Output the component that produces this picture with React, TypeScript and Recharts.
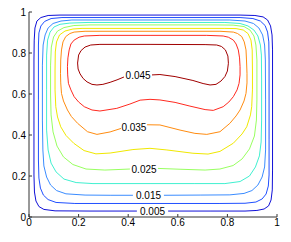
import React from 'react';
import { ComposedChart, Line, XAxis, YAxis, ReferenceDot } from 'recharts';

// contour levels, outermost first
const levels = [0.005, 0.01, 0.015, 0.02, 0.025, 0.03, 0.035, 0.04, 0.045];
const levelColors = ['#1010d8', '#2050ff', '#3a8cff', '#40f0d0', '#98ff60', '#f0e800', '#ff8c10', '#ff2a20', '#a00000'];

const c005 = [[.561,.029],[.730,.029],[.871,.029],[.919,.032],[.948,.039],[.966,.054],[.976,.083],[.981,.132],[.982,.229],[.982,.522],[.982,.815],[.980,.888],[.974,.932],[.962,.961],[.944,.976],[.911,.983],[.851,.985],[.488,.985],[.125,.985],[.077,.983],[.048,.973],[.032,.956],[.024,.922],[.021,.863],[.020,.766],[.020,.473],[.020,.205],[.022,.122],[.028,.078],[.040,.051],[.060,.037],[.105,.030],[.246,.029],[.435,.029]];
const c010 = [[.488,.066],[.770,.066],[.871,.067],[.915,.073],[.940,.088],[.956,.112],[.965,.151],[.968,.205],[.968,.376],[.968,.766],[.967,.854],[.962,.902],[.952,.934],[.933,.956],[.903,.968],[.851,.973],[.488,.973],[.133,.973],[.089,.968],[.063,.954],[.048,.932],[.040,.898],[.038,.839],[.038,.571],[.038,.278],[.040,.190],[.046,.141],[.058,.107],[.077,.085],[.109,.071],[.185,.066],[.488,.066]];
const c015 = [[.544,.106],[.690,.107],[.810,.108],[.867,.115],[.899,.129],[.923,.156],[.940,.195],[.950,.244],[.954,.327],[.954,.571],[.953,.766],[.950,.839],[.942,.888],[.927,.922],[.905,.944],[.871,.956],[.810,.961],[.488,.961],[.173,.961],[.129,.956],[.097,.944],[.077,.922],[.065,.888],[.057,.839],[.054,.741],[.054,.473],[.056,.327],[.060,.249],[.071,.195],[.087,.156],[.111,.129],[.149,.113],[.226,.107],[.327,.106],[.419,.106]];
const c020 = [[.488,.163],[.669,.163],[.790,.163],[.851,.173],[.889,.200],[.913,.244],[.929,.298],[.936,.366],[.938,.473],[.938,.668],[.937,.790],[.933,.839],[.923,.883],[.907,.912],[.883,.932],[.851,.944],[.790,.949],[.488,.949],[.238,.949],[.165,.946],[.125,.940],[.101,.927],[.085,.902],[.075,.863],[.071,.790],[.071,.620],[.071,.424],[.077,.327],[.089,.263],[.109,.220],[.141,.185],[.190,.168],[.258,.163],[.488,.163]];
const c025 = [[.520,.237],[.609,.233],[.710,.229],[.770,.234],[.823,.251],[.859,.283],[.889,.332],[.909,.395],[.917,.473],[.919,.571],[.919,.766],[.915,.839],[.907,.883],[.891,.912],[.867,.929],[.823,.936],[.750,.937],[.488,.937],[.246,.937],[.181,.934],[.141,.924],[.115,.907],[.099,.878],[.090,.829],[.087,.741],[.087,.595],[.089,.498],[.097,.415],[.113,.346],[.139,.293],[.177,.256],[.230,.234],[.306,.229],[.367,.232],[.407,.234]];
const c030 = [[.488,.335],[.556,.327],[.661,.311],[.722,.307],[.770,.320],[.824,.360],[.859,.405],[.878,.440],[.893,.498],[.898,.538],[.901,.620],[.901,.717],[.900,.815],[.895,.863],[.883,.895],[.864,.912],[.835,.919],[.790,.920],[.488,.920],[.214,.920],[.177,.917],[.145,.907],[.123,.888],[.111,.854],[.106,.805],[.105,.717],[.105,.620],[.108,.538],[.115,.488],[.128,.440],[.149,.398],[.181,.359],[.222,.324],[.270,.308],[.327,.312],[.419,.329],[.488,.335]];
const c035 = [[.476,.450],[.528,.449],[.609,.424],[.669,.408],[.717,.403],[.770,.416],[.810,.457],[.835,.493],[.851,.522],[.867,.566],[.875,.603],[.879,.654],[.879,.701],[.877,.766],[.875,.815],[.868,.854],[.858,.880],[.841,.895],[.824,.902],[.770,.906],[.488,.906],[.226,.906],[.182,.902],[.165,.895],[.148,.880],[.137,.854],[.131,.815],[.128,.766],[.127,.701],[.128,.654],[.131,.603],[.139,.566],[.155,.522],[.171,.490],[.196,.457],[.236,.416],[.274,.403],[.327,.415],[.371,.432]];
const c040 = [[.488,.574],[.528,.571],[.589,.559],[.649,.541],[.710,.524],[.743,.520],[.783,.538],[.806,.561],[.824,.587],[.839,.620],[.847,.652],[.851,.693],[.851,.733],[.849,.776],[.844,.815],[.835,.844],[.824,.863],[.804,.877],[.783,.883],[.717,.886],[.488,.886],[.286,.886],[.223,.883],[.202,.877],[.182,.863],[.169,.844],[.162,.815],[.157,.776],[.155,.733],[.156,.693],[.159,.652],[.169,.620],[.182,.587],[.200,.561],[.223,.538],[.254,.522],[.286,.517],[.354,.530],[.407,.551],[.448,.570],[.488,.574]];
const c045 = [[.496,.693],[.528,.695],[.589,.685],[.661,.666],[.702,.651],[.730,.644],[.754,.647],[.774,.663],[.790,.685],[.800,.712],[.804,.750],[.802,.785],[.792,.815],[.776,.832],[.757,.839],[.710,.841],[.488,.842],[.286,.842],[.249,.839],[.226,.829],[.210,.812],[.200,.790],[.196,.751],[.198,.722],[.206,.698],[.218,.676],[.234,.659],[.254,.647],[.274,.644],[.298,.647],[.327,.657],[.355,.669],[.383,.683]];

const contours = [c005, c010, c015, c020, c025, c030, c035, c040, c045];

// inline labels
const labelText = ['0.045', '0.035', '0.025', '0.015', '0.005'];
const labelX = [0.440, 0.423, 0.464, 0.482, 0.498];
const labelY = [0.688, 0.439, 0.234, 0.105, 0.026];

const xTicks = [0, 0.2, 0.4, 0.6, 0.8, 1];
const yTicks = [0, 0.2, 0.4, 0.6, 0.8, 1];

const FONT = '"Liberation Sans", Arial, Helvetica, sans-serif';
const AXIS = '#333';

const BottomTick = (p: any) => (
  <g>
    <line x1={p.x} x2={p.x} y1={p.y - 2} y2={p.y - 5} stroke={AXIS} />
    <text x={p.x} y={p.y} dy="0.71em" textAnchor="middle" fontSize={10} fontFamily={FONT} fill="#000">{p.payload.value}</text>
  </g>
);
const LeftTick = (p: any) => (
  <g>
    <line x1={p.x + 3} x2={p.x + 6} y1={p.y} y2={p.y} stroke={AXIS} />
    <text x={p.x} y={p.y} dy="0.35em" textAnchor="end" fontSize={10} fontFamily={FONT} fill="#000">{p.payload.value}</text>
  </g>
);
const TopTick = (p: any) => <line x1={p.x} x2={p.x} y1={p.y} y2={p.y + 3} stroke={AXIS} />;
const RightTick = (p: any) => <line x1={p.x} x2={p.x - 3} y1={p.y} y2={p.y} stroke={AXIS} />;

export default function App() {
  return (
    <ComposedChart width={283} height={234} margin={{ top: 4, right: 14, bottom: 0, left: 0 }}>
      <XAxis type="number" dataKey="x" domain={[0, 1]} ticks={xTicks} interval={0} allowDataOverflow
        height={25} tickSize={0} tickMargin={2} tickLine={false} axisLine={{ stroke: AXIS }} tick={<BottomTick />} />
      <XAxis xAxisId="top" orientation="top" type="number" dataKey="x" domain={[0, 1]} ticks={xTicks} interval={0} allowDataOverflow
        height={0} tickSize={0} tickMargin={0} tickLine={false} axisLine={{ stroke: AXIS }} tick={<TopTick />} />
      <YAxis type="number" domain={[0, 1]} ticks={yTicks} interval={0} allowDataOverflow
        width={21} tickSize={0} tickMargin={3} tickLine={false} axisLine={{ stroke: AXIS }} tick={<LeftTick />} />
      <YAxis yAxisId="right" orientation="right" type="number" domain={[0, 1]} ticks={yTicks} interval={0} allowDataOverflow
        width={0} tickSize={0} tickMargin={0} tickLine={false} axisLine={{ stroke: AXIS }} tick={<RightTick />} />
      {contours.map((c, i) => (
        <Line key={levels[i]} data={c.map(([x, y]) => ({ x, y }))} dataKey="y" type="linear"
          stroke={levelColors[i]} strokeWidth={1} dot={false} activeDot={false} isAnimationActive={false} />
      ))}
      {labelText.map((t, i) => (
        <ReferenceDot key={t} x={labelX[i]} y={labelY[i]} r={0}
          shape={(s: any) => (
            <text x={s.cx} y={s.cy} dy="0.35em" textAnchor="middle" fontSize={10} fontFamily={FONT} fill="#000">{t}</text>
          )} />
      ))}
    </ComposedChart>
  );
}
